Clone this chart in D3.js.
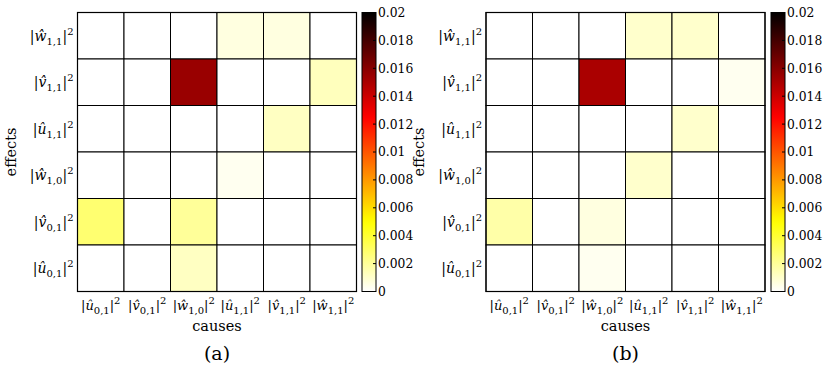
<!DOCTYPE html>
<html><head><meta charset="utf-8">
<script src="https://cdn.jsdelivr.net/npm/d3@7"></script>
<style>body{margin:0;background:#fff}svg{display:block}</style>
</head><body><svg id="c" width="825" height="367"></svg>
<script>
const FONT = "DejaVu Serif";
// categories (letter, subscript)
const causes = [["û","0,1"],["v\u0302","0,1"],["ŵ","1,0"],["û","1,1"],["v\u0302","1,1"],["ŵ","1,1"]];
const effects = [["ŵ","1,1"],["v\u0302","1,1"],["û","1,1"],["ŵ","1,0"],["v\u0302","0,1"],["û","0,1"]]; // top to bottom
// values: rows = effects (top to bottom), cols = causes
const valuesA = [
  [0,0,0,0.0006,0.0006,0],
  [0,0,0.0155,0,0,0.0013],
  [0,0,0,0,0.0012,0],
  [0,0,0,0.0003,0,0],
  [0.0028,0,0.002,0,0,0],
  [0,0,0.0012,0,0,0]
];
const valuesB = [
  [0,0,0,0.001,0.001,0],
  [0,0,0.015,0,0,0.0003],
  [0,0,0,0,0.001,0],
  [0,0,0,0.001,0,0],
  [0.0017,0,0.0006,0,0,0],
  [0,0,0.0003,0,0,0]
];
const colorTicks = [0,0.002,0.004,0.006,0.008,0.01,0.012,0.014,0.016,0.018,0.02];
const panelLabels = ["(a)","(b)"];

function hotRev(t){ // reversed MATLAB hot: t=0 white -> t=1 black
  const s = 1 - t;
  const r = Math.min(1, Math.max(0, s/0.375));
  const g = Math.min(1, Math.max(0, (s-0.375)/0.375));
  const b = Math.min(1, Math.max(0, (s-0.75)/0.25));
  return d3.rgb(r*255, g*255, b*255).toString();
}
const color = d3.scaleSequential(hotRev).domain([0,0.02]);

const svg = d3.select("#c").attr("font-family", FONT);
const defs = svg.append("defs");
const grad = defs.append("linearGradient").attr("id","cb").attr("x1",0).attr("y1",1).attr("x2",0).attr("y2",0);
d3.range(0,1.0001,0.02).forEach(t=>grad.append("stop").attr("offset",t).attr("stop-color",hotRev(t)));

function label(sel, [letter, sub]){
  sel.append("tspan").text("|");
  sel.append("tspan").attr("font-style","italic").text(letter);
  sel.append("tspan").attr("font-size",10).attr("dy",4).text(sub);
  sel.append("tspan").attr("dy",-4).text("|");
  sel.append("tspan").attr("font-size",10).attr("dy",-6).text("2");
}

function panel(x0, values, cbx, plabel){
  const size = 279;
  const y0 = 12.5;
  const x = d3.scaleBand().domain(d3.range(6)).range([x0, x0+size]);
  const y = d3.scaleBand().domain(d3.range(6)).range([y0, y0+size]);
  const g = svg.append("g").attr("font-family", FONT);
  values.forEach((row,i)=>row.forEach((v,j)=>{
    g.append("rect").attr("x",x(j)).attr("y",y(i)).attr("width",x.bandwidth()).attr("height",y.bandwidth())
      .attr("fill",color(v)).attr("stroke","#000").attr("stroke-width",1);
  }));
  g.append("rect").attr("x",x0).attr("y",y0).attr("width",size).attr("height",size).attr("fill","none").attr("stroke","#000").attr("stroke-width",1.2);
  effects.forEach((e,i)=>{
    const t = g.append("text").attr("x",x0-4).attr("y",y(i)+y.bandwidth()/2+5).attr("text-anchor","end").attr("font-size",14);
    label(t,e);
  });
  causes.forEach((c,j)=>{
    const t = g.append("text").attr("x",x(j)+x.bandwidth()/2).attr("y",y0+size+18).attr("text-anchor","middle").attr("font-size",13);
    label(t,c);
  });
  g.append("text").attr("x",x0+size/2).attr("y",331).attr("text-anchor","middle").attr("font-size",14.5).text("causes");
  g.append("text").attr("transform",`translate(${x0-62},${y0+size/2}) rotate(-90)`).attr("text-anchor","middle").attr("font-size",14.5).text("effects");
  g.append("text").attr("x",x0+size/2).attr("y",360).attr("text-anchor","middle").attr("font-size",19).text(plabel);
  // colorbar
  const cy = d3.scaleLinear().domain([0,0.02]).range([y0+size, y0]);
  const cw = 14;
  g.append("rect").attr("x",cbx).attr("y",y0).attr("width",cw).attr("height",size).attr("fill","url(#cb)").attr("stroke","#000").attr("stroke-width",1);
  const ax = d3.axisRight(cy).tickValues(colorTicks).tickSize(0).tickPadding(2).tickFormat(d=>d===0?"0":String(+d.toFixed(3)));
  const ag = g.append("g").attr("transform",`translate(${cbx+cw},0)`).call(ax);
  ag.attr("font-family", FONT);
  ag.select(".domain").remove();
  ag.selectAll("text").attr("font-size",12.3).attr("fill","#000");
  colorTicks.forEach(tv=>{
    g.append("line").attr("x1",cbx+cw-3).attr("x2",cbx+cw).attr("y1",cy(tv)).attr("y2",cy(tv)).attr("stroke","#000");
  });
}
panel(77.5, valuesA, 362, panelLabels[0]);
panel(486, valuesB, 771, panelLabels[1]);
</script></body></html>
